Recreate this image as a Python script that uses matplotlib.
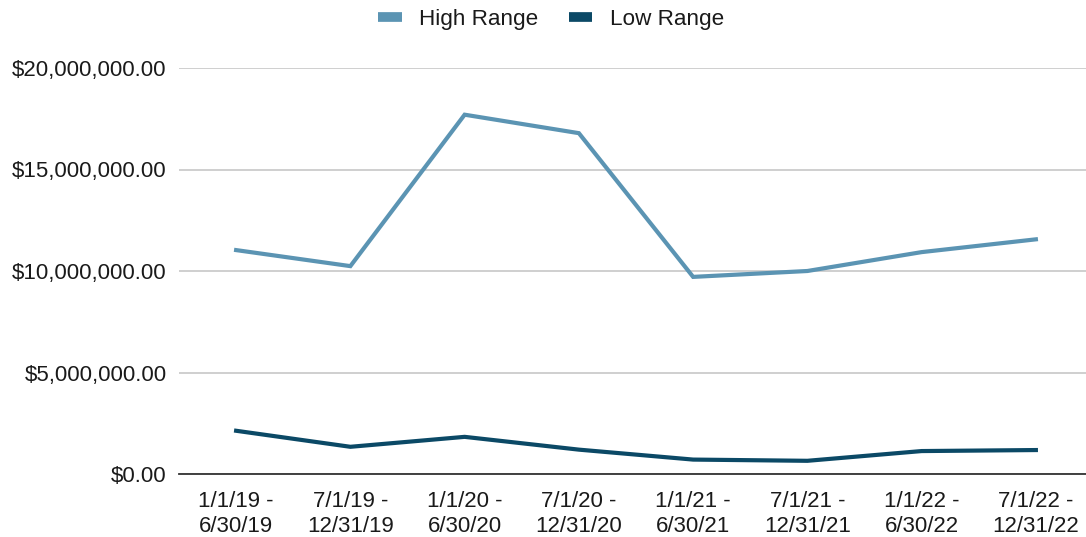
import matplotlib
matplotlib.use("Agg")
import matplotlib.pyplot as plt
from matplotlib.ticker import FuncFormatter

categories = ["1/1/19 -\n6/30/19", "7/1/19 -\n12/31/19", "1/1/20 -\n6/30/20", "7/1/20 -\n12/31/20",
              "1/1/21 -\n6/30/21", "7/1/21 -\n12/31/21", "1/1/22 -\n6/30/22", "7/1/22 -\n12/31/22"]
high_range = [11030000, 10240000, 17700000, 16790000, 9710000, 10000000, 10930000, 11560000]
low_range = [2130000, 1340000, 1830000, 1200000, 710000, 650000, 1130000, 1180000]
yticks = [0, 5000000, 10000000, 15000000, 20000000]

plt.rcParams['font.family'] = ['Liberation Sans', 'DejaVu Sans']

fig = plt.figure(figsize=(10.86, 5.37), dpi=100)
W, H = 1086, 537
left, right, top, bottom = 179, 1093, 68, 474
ax = fig.add_axes([left / W, 1 - bottom / H, (right - left) / W, (bottom - top) / H])

x = list(range(len(categories)))
hc = "#5b94b3"
lc = "#0b4966"
ax.plot(x, high_range, color=hc, lw=3, label="High Range", solid_joinstyle="miter")
ax.plot(x, low_range, color=lc, lw=3, label="Low Range", solid_joinstyle="miter")

ax.set_xlim(-0.5, len(categories) - 0.5)
ax.set_ylim(0, 20000000)
ax.set_yticks(yticks)
ax.yaxis.set_major_formatter(FuncFormatter(lambda v, p: "${:,.2f}".format(v)))
ax.set_xticks(x)
ax.set_xticklabels(categories, fontsize=16, color="#1a1a1a", linespacing=1.3)
ax.tick_params(axis='y', labelsize=16, labelcolor="#1a1a1a", length=0, pad=9)
ax.tick_params(axis='x', length=0, pad=12)
ax.grid(axis='y', color="#cccccc", lw=1.3)
ax.set_axisbelow(True)
for s in ["top", "right", "left"]:
    ax.spines[s].set_visible(False)
ax.spines["bottom"].set_color("#333333")
ax.spines["bottom"].set_linewidth(1.3)
ax.spines["bottom"].set_zorder(1)

leg = fig.legend(loc="center", bbox_to_anchor=(551 / W, 1 - 19 / H), ncol=2, frameon=False,
                 fontsize=16.2, handlelength=1.05, handleheight=0.6, columnspacing=1.35, handletextpad=0.78)
for h in leg.get_lines():
    h.set_linewidth(7)
    h.set_solid_capstyle("butt")
for t in leg.get_texts():
    t.set_color("#1a1a1a")

fig.savefig("out.png", dpi=100)
